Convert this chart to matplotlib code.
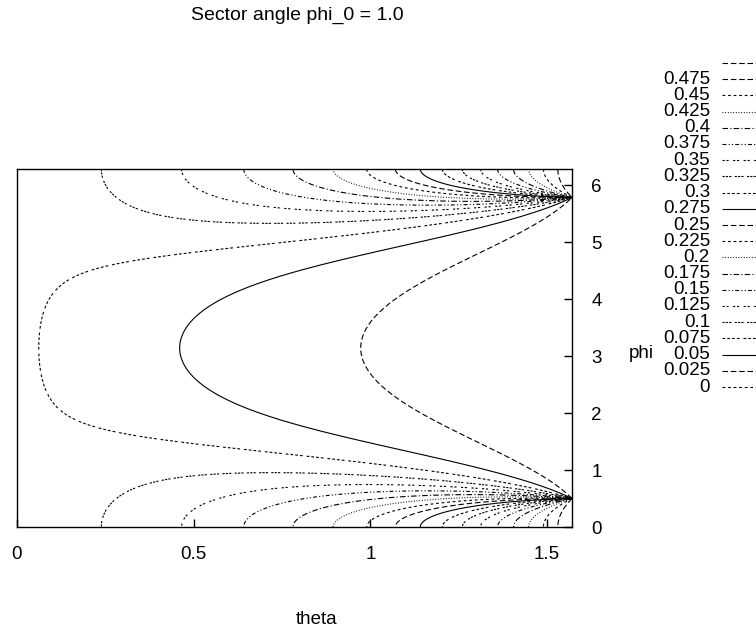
import numpy as np
import matplotlib
matplotlib.use("Agg")
import matplotlib.pyplot as plt
from matplotlib.lines import Line2D

plt.rcParams['font.family'] = ['Liberation Sans', 'DejaVu Sans']

# sector angle and contour levels
phi_0 = 1.0
levels = [0.0, 0.025, 0.05, 0.075, 0.1, 0.125, 0.15, 0.175, 0.2, 0.225,
          0.25, 0.275, 0.3, 0.325, 0.35, 0.375, 0.4, 0.425, 0.45, 0.475]
x_ticks = [0, 0.5, 1, 1.5]
x_ticklabels = ["0", "0.5", "1", "1.5"]
y_ticks = [0, 1, 2, 3, 4, 5, 6]

FS = 13.5

# gnuplot style dash cycle (solid, dashed, short dashed, dotted, ...)
dash_cycle = [
	(0, ()),
	(0, (5, 2.5)),
	(0, (2.5, 2.5)),
	(0, (0.8, 1.6)),
	(0, (5, 2, 1, 2)),
	(0, (3.5, 2, 1, 2, 1, 2)),
	(0, (2, 1.5, 2, 4)),
	(0, (2, 1, 2, 1, 2, 3)),
	(0, (2.5, 1.8, 2.5, 1.8, 2.5, 1.8, 2.5, 3.5)),
]

def level_style(i):
	# 0.05 is solid, going up the cycle runs backwards
	return dash_cycle[(2 - i) % 9]

# field: half the harmonic measure of the sector seen through stereographic map
def sector_field(theta, phi, a):
	r = np.minimum(np.tan(theta / 2.0), 1 - 1e-9)
	k = (1 + r) / (1 - r)
	p = np.where(phi > np.pi, phi - 2 * np.pi, phi)
	def F(x):
		return 2 * np.arctan(k * np.tan(x / 2.0)) + 2 * np.pi * np.floor((x + np.pi) / (2 * np.pi))
	w = (F(p + a / 2.0) - F(p - a / 2.0)) / (2 * np.pi)
	return w / 2.0

theta = np.linspace(0, np.pi / 2, 500)
phi = np.linspace(0, 2 * np.pi, 900)
TH, PH = np.meshgrid(theta, phi)
Z = sector_field(TH, PH, phi_0)

W, H = 756, 628
fig = plt.figure(figsize=(W / 100, H / 100), dpi=100)
ax = fig.add_axes([17 / W, 1 - 527 / H, (572 - 17) / W, (527 - 169) / H])

ax.contour(TH, PH, Z, levels=levels, colors='k', linewidths=0.8,
		linestyles=[level_style(i) for i in range(len(levels))])

ax.set_xlim(0, np.pi / 2)
ax.set_ylim(0, 2 * np.pi)
ax.set_xticks(x_ticks)
ax.set_xticklabels(x_ticklabels)
ax.set_yticks(y_ticks)
ax.yaxis.tick_right()
ax.tick_params(axis='both', direction='in', length=6, width=1, labelsize=FS)
ax.tick_params(axis='x', pad=14)
ax.tick_params(axis='y', pad=14)
for s in ax.spines.values():
	s.set_linewidth(1.0)

fig.text(297 / W, 1 - 15 / H, "Sector angle phi_0 = 1.0", ha='center', va='center', fontsize=FS + 0.5)
fig.text(317 / W, 1 - 620 / H, "theta", ha='center', va='center', fontsize=FS)
fig.text(641 / W, 1 - 353 / H, "phi", ha='center', va='center', fontsize=FS)

# key: blank surface entry then levels from high to low
key_labels = [""] + ["%g" % v for v in levels[::-1]]
key_styles = [dash_cycle[1]] + [level_style(i) for i in range(len(levels))][::-1]
y0, dy = 63, 16.2
for j, (lab, st) in enumerate(zip(key_labels, key_styles)):
	yy = 1 - (y0 + j * dy) / H
	fig.text(710 / W, yy, lab, ha='right', va='center', fontsize=FS)
	fig.add_artist(Line2D([722 / W, 1.0], [yy, yy], color='k', lw=0.8, linestyle=st))

fig.savefig("out.png", dpi=100)
